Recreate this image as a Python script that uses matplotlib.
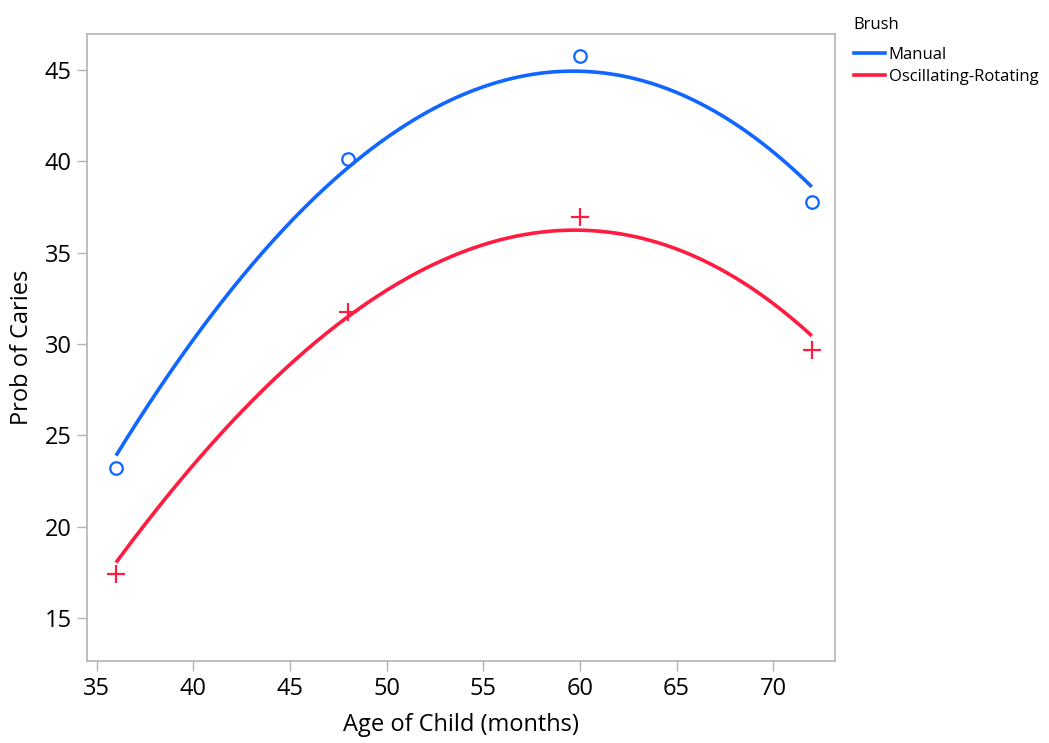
import numpy as np
import matplotlib.pyplot as plt
from matplotlib.lines import Line2D

plt.rcParams['font.family'] = ['Open Sans', 'DejaVu Sans']

# observed points
ages = [36, 48, 60, 72]
manual_obs = [23.2, 40.1, 45.75, 37.75]
osc_obs = [17.4, 31.75, 36.95, 29.65]

# fitted curve (ends, a point on the rise, the peak)
curve_ages = [36, 48, 58.8, 72]
manual_fit = [23.9, 39.65, 44.9, 38.6]
osc_fit = [18.05, 31.5, 36.2, 30.45]

blue = '#1066ff'
red = '#ff1c40'
grey = '#b4b4b4'

fig = plt.figure(figsize=(10.49, 7.43), dpi=100)
ax = fig.add_axes([0.083, 0.110, 0.713, 0.844])

xs = np.linspace(36, 72, 200)
for fit, col in [(manual_fit, blue), (osc_fit, red)]:
    c = np.polyfit(curve_ages, fit, 3)
    ax.plot(xs, np.polyval(c, xs), color=col, lw=2.6, solid_capstyle='butt')

ax.plot(ages, manual_obs, 'o', ms=9, mfc='none', mec=blue, mew=1.6)
ax.plot(ages, osc_obs, '+', ms=13, color=red, mew=1.6)

ax.set_xlim(34.5, 73.2)
ax.set_ylim(12.65, 46.95)
ax.set_xticks(range(35, 71, 5))
ax.set_yticks(range(15, 46, 5))
ax.tick_params(direction='out', length=7, width=1, color=grey, labelsize=17, pad=4)
for s in ax.spines.values():
    s.set_color(grey)
    s.set_linewidth(1.2)

ax.set_xlabel('Age of Child (months)', fontsize=17, labelpad=9)
ax.set_ylabel('Prob of Caries', fontsize=17, labelpad=8)

handles = [Line2D([], [], color=blue, lw=2.6), Line2D([], [], color=red, lw=2.6)]
leg = fig.legend(handles, ['Manual', 'Oscillating-Rotating'], title='Brush',
                 loc='upper left', bbox_to_anchor=(0.801, 0.995), frameon=False,
                 fontsize=12, title_fontsize=12, handlelength=1.9, handletextpad=0.2,
                 labelspacing=0.35, borderpad=0.3)
leg._legend_box.align = 'left'
leg._legend_box.sep = 10

fig.savefig('out.png', dpi=100)
